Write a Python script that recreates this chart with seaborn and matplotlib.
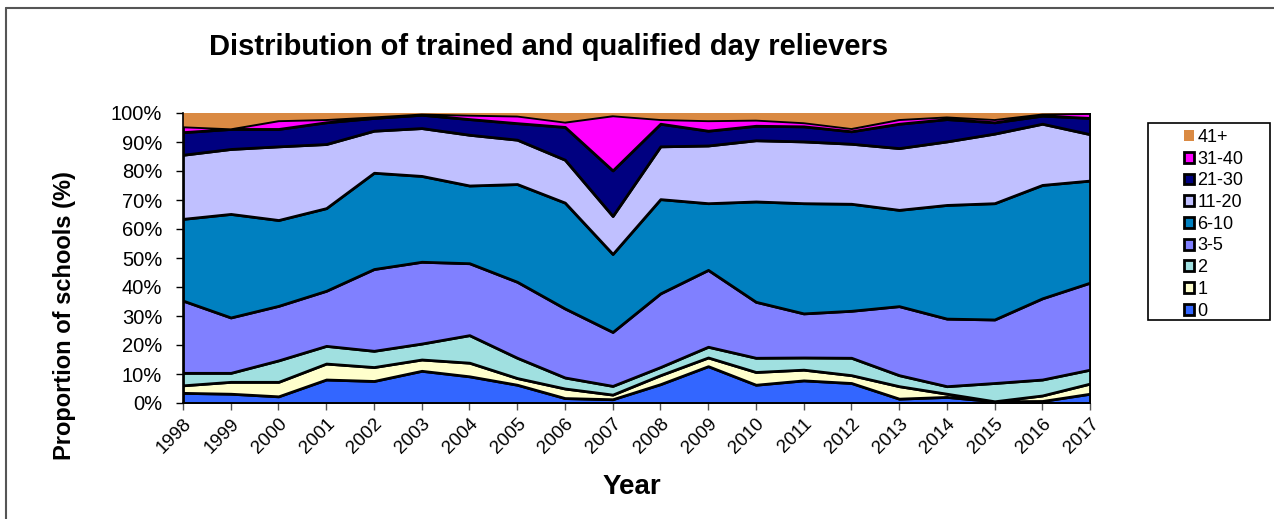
import numpy as np
import pandas as pd
import matplotlib
matplotlib.use("Agg")
import matplotlib.pyplot as plt
from matplotlib.patches import Patch, Rectangle
from matplotlib.lines import Line2D
from matplotlib.ticker import PercentFormatter
import seaborn as sns

years = list(range(1998, 2018))
categories = ["0", "1", "2", "3-5", "6-10", "11-20", "21-30", "31-40", "41+"]

# Share of schools (%) in each day-reliever band, per year
v_0 = [3.5, 3.2, 2.3, 8.1, 7.6, 11.1, 9.2, 6.3, 1.7, 1.3, 6.5, 12.7, 6.3, 7.8, 6.9, 1.5, 2.1, 0.6, 0.7, 3.2]
v_1 = [2.6, 4.1, 5.0, 5.5, 4.8, 3.9, 4.7, 2.3, 3.3, 1.6, 3.1, 3.0, 4.4, 3.7, 2.7, 4.3, 1.1, 0.0, 1.9, 3.5]
v_2 = [4.3, 3.1, 7.4, 6.1, 5.6, 5.5, 9.5, 7.0, 3.8, 3.0, 2.8, 3.7, 4.9, 4.2, 6.0, 3.8, 2.6, 6.3, 5.5, 4.8]
v_3_5 = [24.9, 19.1, 18.8, 19.0, 28.2, 28.2, 24.8, 26.2, 23.8, 18.6, 25.4, 26.5, 19.3, 15.2, 16.2, 23.8, 23.3, 21.9, 28.0, 30.0]
v_6_10 = [28.2, 35.7, 29.6, 28.5, 33.2, 29.6, 26.8, 33.7, 36.5, 26.9, 32.5, 23.0, 34.6, 38.0, 36.9, 33.2, 39.2, 40.1, 39.1, 35.2]
v_11_20 = [22.1, 22.4, 25.4, 22.1, 14.5, 16.5, 17.5, 15.3, 14.8, 13.1, 18.2, 19.9, 21.1, 21.3, 20.7, 21.3, 21.9, 24.0, 21.1, 16.0]
v_21_30 = [7.8, 6.9, 6.0, 7.5, 4.4, 4.6, 5.4, 5.7, 11.3, 15.7, 7.8, 5.1, 5.0, 5.2, 4.3, 8.4, 7.7, 3.9, 2.8, 5.6]
v_31_40 = [2.0, 0.2, 3.0, 1.1, 0.5, 0.4, 1.5, 2.6, 1.8, 19.0, 1.6, 3.6, 2.1, 1.4, 1.1, 1.6, 0.9, 1.1, 0.7, 1.7]
v_41 = [4.6, 5.3, 2.5, 2.1, 1.2, 0.2, 0.6, 0.9, 3.0, 0.8, 2.1, 2.5, 2.3, 3.2, 5.2, 2.1, 1.2, 2.1, 0.2, 0.0]

colors = ["#3366FF", "#FFFFCC", "#A0E0E0", "#8080FF", "#0080C0",
          "#C0C0FF", "#000080", "#FF00FF", "#DA8A43"]

df = pd.DataFrame({"Year": years, "0": v_0, "1": v_1, "2": v_2, "3-5": v_3_5,
                   "6-10": v_6_10, "11-20": v_11_20, "21-30": v_21_30,
                   "31-40": v_31_40, "41+": v_41})

sns.set_theme(style="white")
plt.rcParams["font.family"] = ["Liberation Sans", "DejaVu Sans"]
plt.rcParams["text.color"] = "black"
plt.rcParams["axes.labelcolor"] = "black"
plt.rcParams["xtick.color"] = "black"
plt.rcParams["ytick.color"] = "black"

fig = plt.figure(figsize=(12.74, 5.19), dpi=100)
W, H = 1274, 519
ax = fig.add_axes([183 / W, 1 - 403 / H, (1090 - 183) / W, (403 - 113) / H])

polys = ax.stackplot(df["Year"], *[df[c] for c in categories], colors=colors,
                     edgecolor="black", linewidth=2.0)
polys[-1].set_edgecolor("none")
polys[-1].set_linewidth(0)

ax.set_xlim(years[0], years[-1])
ax.set_ylim(0, 100)
ax.set_xticks(years)
ax.set_xticklabels([str(y) for y in years], rotation=45, ha="right",
                   rotation_mode="anchor", fontsize=13.5)
ax.set_yticks(np.arange(0, 101, 10))
ax.yaxis.set_major_formatter(PercentFormatter(decimals=0))
ax.tick_params(axis="y", labelsize=14.5, length=5, width=1, color="black",
               direction="out", left=True, pad=10)
ax.tick_params(axis="x", length=5, width=1, color="#555555",
               direction="out", bottom=True, pad=4)
sns.despine(ax=ax, top=True, right=True)
ax.spines["left"].set_color("black")
ax.spines["left"].set_linewidth(1.2)
ax.spines["bottom"].set_color("black")
ax.spines["bottom"].set_linewidth(1.2)
ax.grid(False)

fig.text(632 / W, 1 - 487 / H, "Year", ha="center", va="center",
         fontsize=20, fontweight="bold")
fig.text(65 / W, 1 - 316 / H, "Proportion of schools (%)", rotation=90,
         ha="center", va="center", fontsize=17, fontweight="bold")
fig.text(549 / W, 1 - 47 / H, "Distribution of trained and qualified day relievers",
         ha="center", va="center", fontsize=21, fontweight="bold")

# Legend: framed box on the right, bands listed from largest to smallest
handles = []
for c, col in zip(categories[::-1], colors[::-1]):
    if c == "41+":
        handles.append(Patch(facecolor=col, edgecolor="none"))
    else:
        handles.append(Patch(facecolor=col, edgecolor="black", linewidth=2))
fig.patches.append(Rectangle((1148 / W, 1 - 320 / H), (1270 - 1148) / W, (320 - 123) / H,
                             transform=fig.transFigure, facecolor="white",
                             edgecolor="black", linewidth=1.2))
fig.legend(handles, categories[::-1], loc="upper left",
           bbox_to_anchor=(1175 / W, 1 - 120 / H), frameon=False,
           fontsize=13, handlelength=0.55, handleheight=0.55,
           handletextpad=0.2, labelspacing=0.26, borderpad=0.0)

# Outer chart border (top and left edges)
fig.add_artist(Line2D([6 / W, 6 / W], [0, 1 - 8 / H], transform=fig.transFigure,
                      color="#555555", linewidth=1.5))
fig.add_artist(Line2D([6 / W, 1], [1 - 8 / H, 1 - 8 / H], transform=fig.transFigure,
                      color="#555555", linewidth=1.5))

fig.savefig("out.png", dpi=100)
